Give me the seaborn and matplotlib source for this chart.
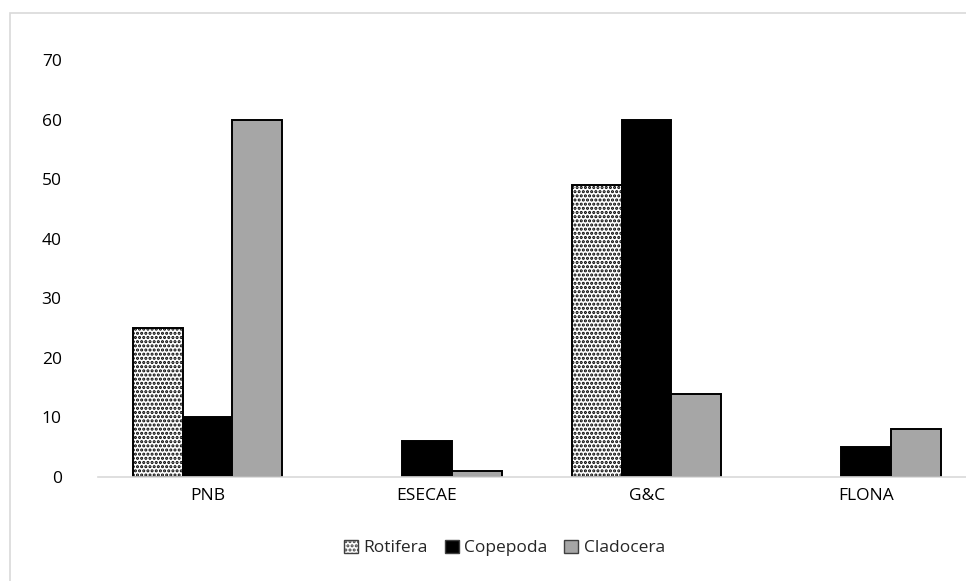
import pandas as pd
import matplotlib.pyplot as plt
import seaborn as sns
from matplotlib.patches import Rectangle, Patch

sites = ["PNB", "ESECAE", "G&C", "FLONA"]
groups = ["Rotifera", "Copepoda", "Cladocera"]
rotifera = [25, 0, 49, 0]
copepoda = [10, 6, 60, 5]
cladocera = [60, 1, 14, 8]

df = pd.DataFrame({
    "site": sites * 3,
    "group": [g for g in groups for _ in sites],
    "value": rotifera + copepoda + cladocera,
})

sns.set_style("white")
plt.rcParams["font.family"] = ["Open Sans", "DejaVu Sans"]
plt.rcParams["hatch.linewidth"] = 1.5

colors = {"Rotifera": "white", "Copepoda": "black", "Cladocera": "#a6a6a6"}

fig = plt.figure(figsize=(9.66, 5.81), dpi=100)
ax = fig.add_axes([0.1012, 0.179, 0.909, 0.7177])

sns.barplot(data=df, x="site", y="value", hue="group", order=sites,
            hue_order=groups, palette=colors, width=0.68, edgecolor="black",
            linewidth=1.4, ax=ax, legend=False)

# dotted fill for Rotifera, hide empty bars
for bar in ax.containers[0]:
    bar.set_hatch("....")
for cont in ax.containers:
    for bar in cont:
        if bar.get_height() == 0:
            bar.set_visible(False)

ax.set_ylim(0, 70)
ax.set_yticks(range(0, 71, 10))
ax.set_xlabel("")
ax.set_ylabel("")
for s in ["top", "right", "left"]:
    ax.spines[s].set_visible(False)
ax.spines["bottom"].set_color("#d9d9d9")
ax.spines["bottom"].set_linewidth(1.2)
ax.tick_params(axis="both", length=0, labelsize=12.5, colors="black", pad=8)
ax.tick_params(axis="y", pad=26)

handles = [Patch(facecolor=colors[g], edgecolor="#404040", hatch="...." if g == "Rotifera" else None,
                 label=g) for g in groups]
fig.legend(handles=handles, loc="center", bbox_to_anchor=(0.522, 0.057), ncol=3,
           frameon=False, fontsize=12.5, handlelength=0.8, handleheight=0.8,
           handletextpad=0.3, columnspacing=1.0)

fig.patches.append(Rectangle((0.010, -0.05), 1.1, 1.028, transform=fig.transFigure,
                             fill=False, edgecolor="#d9d9d9", linewidth=1.2))

plt.savefig("out.png", dpi=100)
